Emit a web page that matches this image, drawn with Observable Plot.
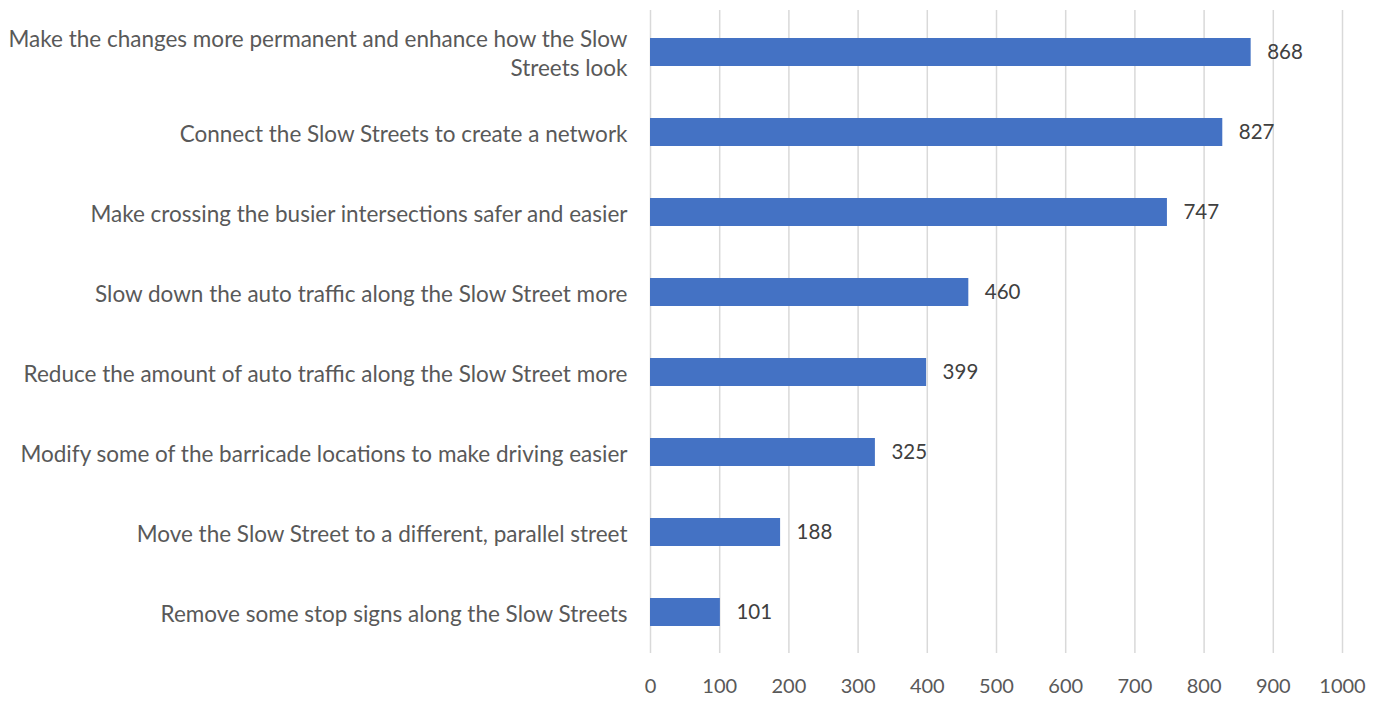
<!DOCTYPE html>
<html>
<head>
<meta charset="utf-8">
<script src="https://cdn.jsdelivr.net/npm/d3@7"></script>
<script src="https://cdn.jsdelivr.net/npm/@observablehq/plot@0.6"></script>
<style>
  html, body { margin: 0; padding: 0; background: #fff; }
  #chart svg { display: block; }
</style>
</head>
<body>
<div id="chart"></div>
<script>
const categories = [
  "Make the changes more permanent and enhance how the Slow\nStreets look",
  "Connect the Slow Streets to create a network",
  "Make crossing the busier intersections safer and easier",
  "Slow down the auto traffic along the Slow Street more",
  "Reduce the amount of auto traffic along the Slow Street more",
  "Modify some of the barricade locations to make driving easier",
  "Move the Slow Street to a different, parallel street",
  "Remove some stop signs along the Slow Streets"
];
const values = [868, 827, 747, 460, 399, 325, 188, 101];
const xTicks = [0, 100, 200, 300, 400, 500, 600, 700, 800, 900, 1000];

const data = categories.map((c, i) => ({category: c, value: values[i]}));

const chart = Plot.plot({
  width: 1382,
  height: 703,
  marginLeft: 650,
  marginRight: 40,
  marginTop: 10,
  marginBottom: 50,
  style: {fontFamily: "Lato, sans-serif", fontSize: "20px", color: "#595959", background: "#fff"},
  x: {domain: [0, 1000], ticks: xTicks},
  y: {domain: categories, paddingInner: 0.65, paddingOuter: 0.325, label: null},
  marks: [
    Plot.gridX(xTicks, {stroke: "#d9d9d9", strokeOpacity: 1, strokeWidth: 1.5}),
    Plot.barX(data, {x: "value", y: "category", fill: "#4472C4"}),
    Plot.text(data, {x: "value", y: "category", text: d => String(d.value), textAnchor: "start", dx: 16, fill: "#404040", fontSize: 20.5}),
    Plot.axisX(xTicks, {tickSize: 0, tickPadding: 25, label: null, fill: "#595959", fontSize: 20, tickFormat: d => String(d)}),
    Plot.axisY({tickSize: 0, tickPadding: 23, label: null, fill: "#595959", fontSize: 22.5, lineHeight: 1.25})
  ]
});
document.getElementById("chart").appendChild(chart);
</script>
</body>
</html>
